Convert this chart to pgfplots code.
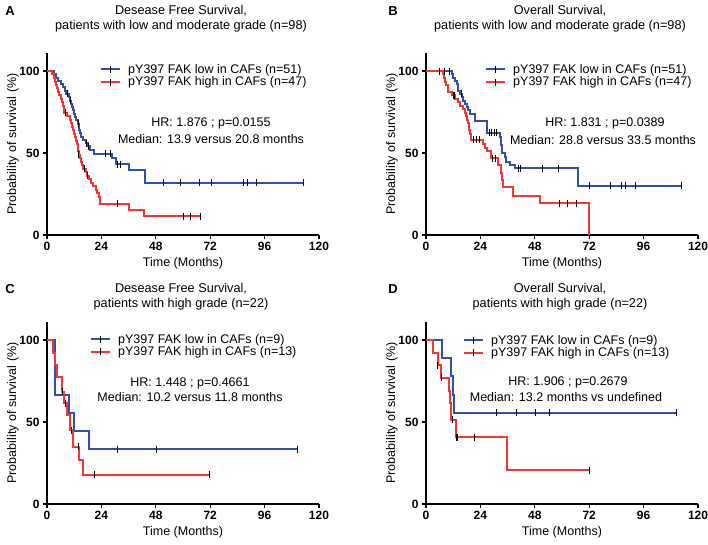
\documentclass[border=0pt]{standalone}
\usepackage{fontspec}
\setmainfont{Liberation Sans}
\usepackage{pgfplots}
\pgfplotsset{compat=1.18}
\definecolor{kmblue}{RGB}{50,80,165}
\definecolor{kmred}{RGB}{240,55,55}
\pgfplotsset{
 kmaxis/.style={
  scale only axis, width=272pt, height=182pt,
  xmin=0, xmax=120, ymin=0, ymax=111,
  axis lines*=left, axis line style={line width=1.5pt},
  xtick={0,24,...,120}, ytick={0,50,100},
  tick style={black, line width=1.3pt},
  major tick length=4pt,
  tick align=outside,
  ticklabel style={font=\fontsize{12}{13}\selectfont\bfseries},
  /pgf/number format/assume math mode=true,
  xlabel={Time (Months)}, ylabel={Probability of survival (\%)},
  label style={font=\fontsize{12.5}{14}\selectfont},
  xlabel style={at={(axis description cs:0.5,-0.155)}, anchor=center},
  ylabel style={at={(axis description cs:-0.125,0.5)}, anchor=center},
  clip=false,
  legend cell align=left,
  legend style={draw=none, fill=none, font=\fontsize{12.5}{14}\selectfont, row sep=0pt, anchor=north west, inner sep=0pt,
     nodes={inner xsep=7pt, inner ysep=1pt}},
  legend image code/.code={\draw[#1] (0pt,0pt) -- (19pt,0pt); \draw[black, line width=1pt] (9.5pt,-3.5pt) -- (9.5pt,3.5pt);},
 },
 cens/.style={only marks, mark=|, mark size=3.5pt, black, mark options={line width=1pt}, forget plot},
}
\begin{document}
\begin{tikzpicture}
\path[use as bounding box] (0,0) rectangle (708pt,-545pt);
\tikzset{ttl/.style={font=\fontsize{12.7}{15}\selectfont, align=center}, hr/.style={font=\fontsize{12.5}{14}\selectfont}, lett/.style={font=\fontsize{13}{14}\selectfont\bfseries}}
\node[lett] at (10pt,-11pt) {A};
\node[lett] at (393pt,-11pt) {B};
\node[lett] at (10pt,-289pt) {C};
\node[lett] at (393pt,-289pt) {D};
\node[ttl] at (181pt,-19pt) {Desease Free Survival,\\patients with low and moderate grade (n=98)};
\node[ttl] at (560pt,-19pt) {Overall Survival,\\patients with low and moderate grade (n=98)};
\node[ttl] at (181pt,-297pt) {Desease Free Survival,\\patients with high grade (n=22)};
\node[ttl] at (560pt,-297pt) {Overall Survival,\\patients with high grade (n=22)};
\node[hr] at (211pt,-123pt) {HR: 1.876 ; p=0.0155};
\node[hr] at (211pt,-139pt) {Median: 13.9 versus 20.8 months};
\node[hr] at (605pt,-123pt) {HR: 1.831 ; p=0.0389};
\node[hr] at (603pt,-140pt) {Median: 28.8 versus 33.5 months};
\node[hr] at (190pt,-383pt) {HR: 1.448 ; p=0.4661};
\node[hr] at (190pt,-397pt) {Median: 10.2 versus 11.8 months};
\node[hr] at (568pt,-382pt) {HR: 1.906 ; p=0.2679};
\node[hr] at (566pt,-397pt) {Median: 13.2 months vs undefined};

% ---------- Panel A ----------
\begin{axis}[kmaxis, at={(47pt,-235pt)}, anchor=south west,
  legend style={at={(0.195,0.945)}}]
\addplot[const plot, draw=kmblue, line width=2pt, mark=none] coordinates {(0,100)(3,98)(4,96)(5,94)(6,92)(7,90)(8,88)(8.5,86)(9.5,84)(10,82)(10.5,80)(11,78)(11.5,76)(12,74)(12.5,72)(13,70)(13.5,68)(14,66)(14.3,64)(14.6,62)(15,60)(16,58)(17,56)(18,54)(19,52)(20.8,49.5)(28.5,46.7)(30.5,43.1)(36.3,39.6)(43.2,31.9)(113,31.9)};
\addlegendentry{pY397 FAK low in CAFs (n=51)}
\addplot[const plot, draw=kmred, line width=2pt, mark=none] coordinates {(0,100)(2,97.9)(3,95.7)(3.5,93.6)(4,91.5)(4.5,89.4)(5,87.2)(5.5,85.1)(6,83)(6.5,80.9)(7,78.7)(7.3,76.6)(7.6,74.5)(9,72.3)(10,70.2)(10.5,68.1)(11,66)(11.5,63.8)(12,61.7)(12.5,59.6)(13,57.4)(13.3,55.3)(13.6,53.2)(13.8,51.1)(13.9,49)(14.5,46.8)(15,44.7)(15.5,42.6)(16,40.4)(17,38.3)(17.5,36.2)(18.5,34)(19.5,31.9)(20.5,29.8)(21.5,27.7)(22.2,25.5)(22.8,23.4)(23.2,21.3)(23.6,19.1)(36.3,15.3)(42.8,11.5)(67.5,11.5)};
\addlegendentry{pY397 FAK high in CAFs (n=47)}
\addplot[cens] coordinates {(9,86)(10.2,82)(13.7,68)(17.5,56)(18.5,54)(25.9,49.5)(28.2,49.5)(31,43.1)(32.6,43.1)(51.6,31.9)(58.7,31.9)(67.2,31.9)(72.7,31.9)(86.6,31.9)(88.4,31.9)(92.5,31.9)(113,31.9)};
\addplot[cens] coordinates {(8,74.5)(14,49)(16.5,40.4)(18,36.2)(31,19.1)(60.1,11.5)(63.1,11.5)(67.5,11.5)};
\end{axis}

% ---------- Panel B ----------
\begin{axis}[kmaxis, at={(426pt,-235pt)}, anchor=south west,
  legend style={at={(0.217,0.945)}}]
\addplot[const plot, draw=kmblue, line width=2pt, mark=none] coordinates {(0,100)(11.3,98)(12,96)(12.8,94)(13.5,92)(14,90)(14.3,88)(15,86)(16,84)(16.5,82)(17,80)(18,78)(18.5,76)(19.4,74)(21.5,69.3)(26.8,62.4)(32.6,60)(33,57.5)(33.2,55)(33.4,52.5)(33.5,49.8)(35,47.3)(35.5,44.7)(37,42.7)(39.3,40.7)(66.9,29.9)(112.5,29.9)};
\addlegendentry{pY397 FAK low in CAFs (n=51)}
\addplot[const plot, draw=kmred, line width=2pt, mark=none] coordinates {(0,100)(7.6,97.9)(8,95.7)(8.5,93.6)(9,91.5)(9.5,89.4)(9.8,87.2)(11.5,85.1)(13,83)(14,80.9)(15,78.7)(16.3,76.6)(17,74.5)(17.5,72.3)(18,70.2)(18.5,68.1)(19,63.8)(19.5,61.7)(19.85,58)(25,55.3)(26,53.2)(27,51)(28.8,46.7)(31.9,42.5)(33,38)(33.5,33.5)(34,29.3)(38.5,23.8)(50.3,19.3)(72,0)};
\addlegendentry{pY397 FAK high in CAFs (n=47)}
\addplot[cens] coordinates {(5.8,100)(8,100)(10.5,100)(15.5,86)(28,62.4)(29,62.4)(30,62.4)(31,62.4)(40.7,40.7)(41.5,40.7)(51.3,40.7)(58.4,40.7)(72.3,29.9)(81.2,29.9)(86.3,29.9)(88.2,29.9)(92.5,29.9)(112.5,29.9)};
\addplot[cens] coordinates {(12,85.1)(12.5,85.1)(20.8,58)(22.3,58)(23.8,58)(29.5,46.7)(30.5,46.7)(59.1,19.3)(62.6,19.3)(66.5,19.3)};
\end{axis}

% ---------- Panel C ----------
\begin{axis}[kmaxis, at={(47pt,-504pt)}, anchor=south west,
  legend style={at={(0.158,0.94)}}]
\addplot[const plot, draw=kmblue, line width=2pt, mark=none] coordinates {(0,100)(3.5,66.7)(9.8,55.6)(11.8,44.4)(18.7,33.4)(110.4,33.4)};
\addlegendentry{pY397 FAK low in CAFs (n=9)}
\addplot[const plot, draw=kmred, line width=2pt, mark=none] coordinates {(0,100)(2.5,92.3)(3.5,84.6)(4.3,77.6)(6.5,68.5)(7.6,61.4)(8.7,54)(10.2,45)(11.4,35)(14.3,26.8)(15.7,17.7)(71.9,17.7)};
\addlegendentry{pY397 FAK high in CAFs (n=13)}
\addplot[cens] coordinates {(31,33.4)(48.1,33.4)(110.4,33.4)};
\addplot[cens] coordinates {(7,68.5)(8,61.4)(10.7,45)(14,35)(20.9,17.7)(71.9,17.7)};
\end{axis}

% ---------- Panel D ----------
\begin{axis}[kmaxis, at={(426pt,-504pt)}, anchor=south west,
  legend style={at={(0.136,0.935)}}]
\addplot[const plot, draw=kmblue, line width=2pt, mark=none] coordinates {(0,100)(6.9,88.9)(11,77.8)(12,66.7)(12.5,55.6)(110.6,55.6)};
\addlegendentry{pY397 FAK low in CAFs (n=9)}
\addplot[const plot, draw=kmred, line width=2pt, mark=none] coordinates {(0,100)(3.2,92.3)(5.4,84.6)(6.6,76.9)(10.3,69.2)(10.8,61.5)(11.2,51.3)(13.1,40.7)(35.6,20.5)(72,20.5)};
\addlegendentry{pY397 FAK high in CAFs (n=13)}
\addplot[cens] coordinates {(30.9,55.6)(40,55.6)(48.4,55.6)(54.4,55.6)(110.6,55.6)};
\addplot[cens] coordinates {(5,84.6)(6.8,76.9)(11.5,51.3)(13.5,40.7)(14,40.7)(21.2,40.7)(72,20.5)};
\end{axis}
\end{tikzpicture}
\end{document}
